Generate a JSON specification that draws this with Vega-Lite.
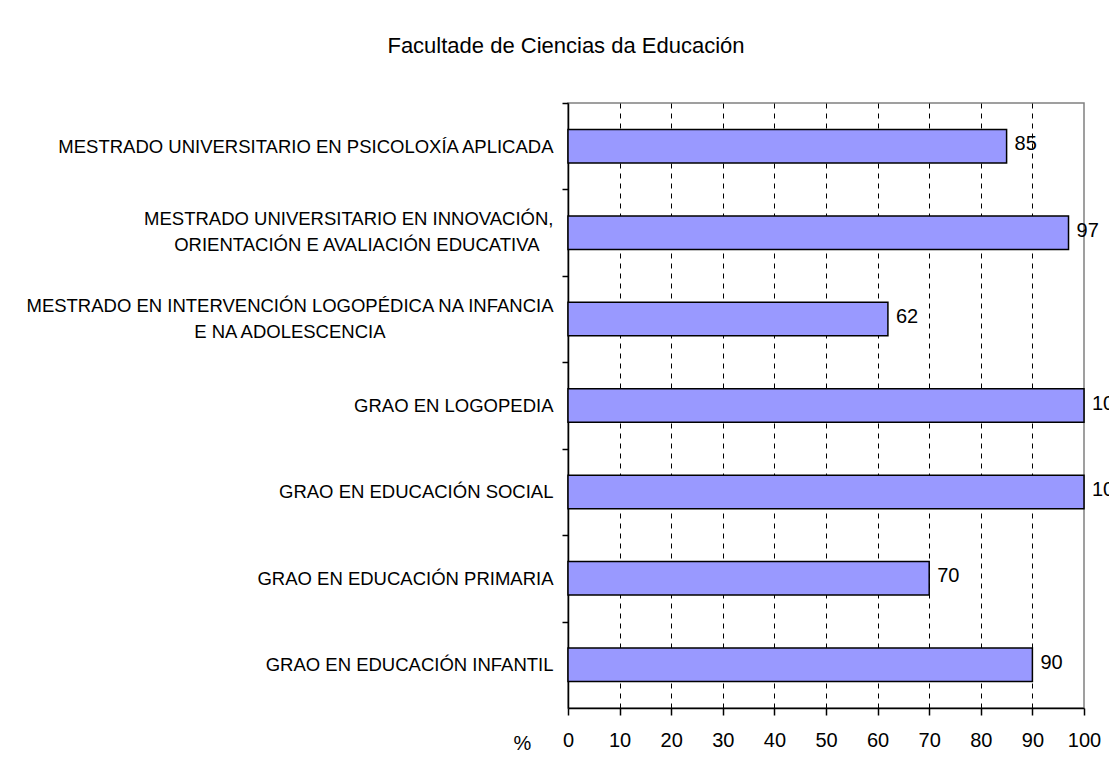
{
  "$schema": "https://vega.github.io/schema/vega-lite/v6.json",
  "autosize": {"type": "none"},
  "padding": {"left": 568, "top": 103, "right": 25, "bottom": 66},
  "width": 516,
  "height": 605,
  "background": "white",
  "config": {
    "font": "Liberation Sans",
    "view": {"stroke": "#808080", "strokeWidth": 1.5}
  },
  "title": {
    "text": "Facultade de Ciencias da Educación",
    "font": "Liberation Sans",
    "fontSize": 22,
    "fontWeight": "normal",
    "color": "black",
    "anchor": "middle",
    "baseline": "bottom",
    "offset": 22,
    "dx": -260
  },
  "data": {
    "values": [
      {"titulacion": "MESTRADO UNIVERSITARIO EN PSICOLOXÍA APLICADA", "pct": 85},
      {"titulacion": "MESTRADO UNIVERSITARIO EN INNOVACIÓN,|ORIENTACIÓN E AVALIACIÓN EDUCATIVA", "pct": 97},
      {"titulacion": "MESTRADO EN INTERVENCIÓN LOGOPÉDICA NA INFANCIA|E NA ADOLESCENCIA", "pct": 62},
      {"titulacion": "GRAO EN LOGOPEDIA", "pct": 100},
      {"titulacion": "GRAO EN EDUCACIÓN SOCIAL", "pct": 100},
      {"titulacion": "GRAO EN EDUCACIÓN PRIMARIA", "pct": 70},
      {"titulacion": "GRAO EN EDUCACIÓN INFANTIL", "pct": 90}
    ]
  },
  "encoding": {
    "y": {
      "field": "titulacion",
      "type": "nominal",
      "sort": null,
      "scale": {"paddingInner": 0.612, "paddingOuter": 0.306},
      "axis": {
        "title": null,
        "labelExpr": "indexof(datum.value, '|') >= 0 ? [split(datum.value, '|')[0], pad(split(datum.value, '|')[1], length(split(datum.value, '|')[1]) + round((length(split(datum.value, '|')[0]) - length(split(datum.value, '|')[1])) * 0.4), '\u2800')] : datum.value",
        "labelFont": "Liberation Sans",
        "labelFontSize": 18.5,
        "labelColor": "black",
        "labelLimit": 1000,
        "labelPadding": 9,
        "labelLineHeight": 26,
        "labelBaseline": {"condition": {"test": "indexof(datum.value, '|') >= 0", "value": "line-bottom"}, "value": "middle"},
        "tickOffset": -43.2,
        "labelOffset": 43.2,
        "tickSize": 6,
        "tickColor": "black",
        "tickWidth": 1.5,
        "domainColor": "black",
        "domainWidth": 1.5,
        "grid": false
      }
    },
    "x": {
      "field": "pct",
      "type": "quantitative",
      "scale": {"domain": [0, 100], "nice": false},
      "axis": {
        "title": "%",
        "titleFont": "Liberation Sans",
        "titleFontSize": 20,
        "titleFontWeight": "normal",
        "titleColor": "black",
        "titleX": -46,
        "titleY": 35,
        "titleAlign": "center",
        "titleBaseline": "middle",
        "values": [0, 10, 20, 30, 40, 50, 60, 70, 80, 90, 100],
        "labelFont": "Liberation Sans",
        "labelFontSize": 20,
        "labelColor": "black",
        "labelPadding": 15,
        "labelFlush": false,
        "labelOverlap": false,
        "tickSize": 7,
        "tickColor": "black",
        "tickWidth": 1.5,
        "domainColor": "black",
        "domainWidth": 1.5,
        "grid": true,
        "gridColor": "black",
        "gridDash": [5, 5],
        "gridWidth": 1,
        "gridOpacity": {"condition": {"test": "datum.value === 100 || datum.value === 0", "value": 0}, "value": 1}
      }
    }
  },
  "layer": [
    {
      "mark": {"type": "bar", "fill": "#9999FF", "stroke": "black", "strokeWidth": 1.5}
    },
    {
      "mark": {"type": "text", "align": "left", "baseline": "middle", "dx": 8, "dy": -2, "fontSize": 20, "font": "Liberation Sans", "color": "black"},
      "encoding": {"text": {"field": "pct", "type": "quantitative"}}
    }
  ]
}
